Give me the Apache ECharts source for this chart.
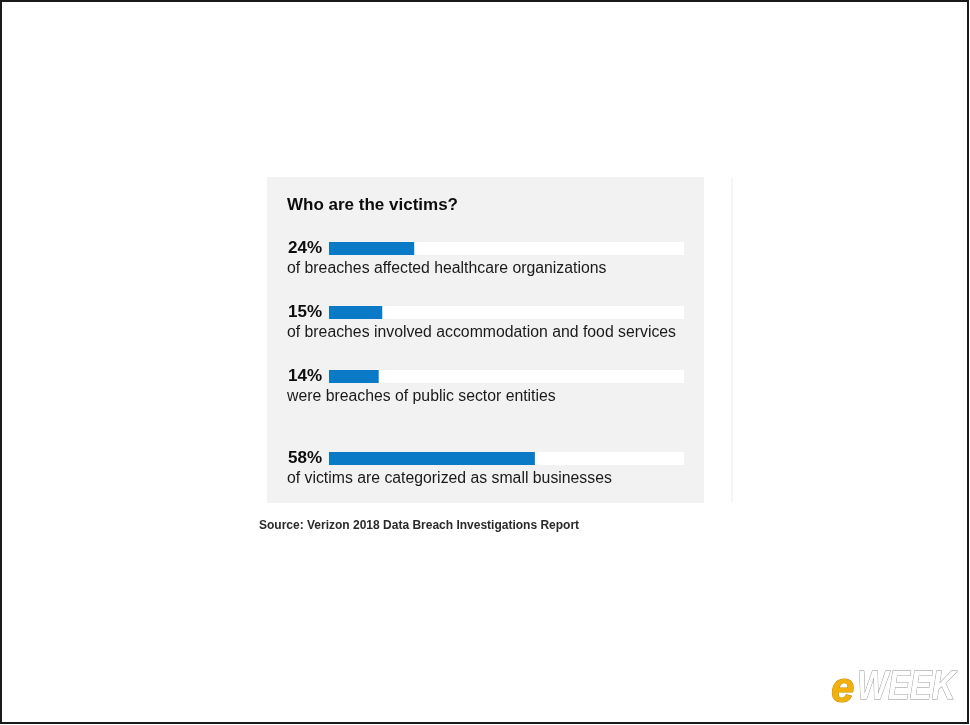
<!DOCTYPE html>
<html>
<head>
<meta charset="utf-8">
<script src="https://cdn.jsdelivr.net/npm/echarts@6/dist/echarts.min.js"></script>
<style>
html,body{margin:0;padding:0;background:#fff;}
#chart{width:970px;height:725px;}
</style>
</head>
<body>
<div id="chart"></div>
<script>
const titleText = 'Who are the victims?';
const categories = ['healthcare', 'accommodation', 'public sector', 'small businesses'];
const percentValues = [24, 15, 14, 58];
const descriptions = [
  'of breaches affected healthcare organizations',
  'of breaches involved accommodation and food services',
  'were breaches of public sector entities',
  'of victims are categorized as small businesses'
];
const sourceText = 'Source: Verizon 2018 Data Breach Investigations Report';
const axisMax = 100;

const FONT = '"Liberation Sans", Arial, Helvetica, sans-serif';
const barTops = [242, 306, 370, 452];
const barLeft = 329, barWidth = 355, barH = 13;

const grids = [], xAxes = [], yAxes = [], series = [], descTexts = [];
categories.forEach((c, i) => {
  grids.push({left: barLeft, width: barWidth, top: barTops[i], height: barH, containLabel: false});
  xAxes.push({type: 'value', gridIndex: i, min: 0, max: axisMax, show: false});
  yAxes.push({type: 'category', gridIndex: i, data: [c], show: false});
  series.push({
    type: 'bar', xAxisIndex: i, yAxisIndex: i,
    data: [percentValues[i]],
    barWidth: '100%',
    showBackground: true,
    backgroundStyle: {color: '#ffffff'},
    itemStyle: {color: '#0a7ac7'},
    label: {
      show: true, position: 'left', distance: 7,
      formatter: '{c}%',
      fontFamily: FONT, fontWeight: 'bold', fontSize: 17, color: '#0d0d0d'
    },
    silent: true, animation: false
  });
  descTexts.push({
    type: 'text', left: 287, top: barTops[i] + 19, z: 10,
    style: {text: descriptions[i], fontFamily: FONT, fontSize: 15.8, fill: '#1a1a1a'}
  });
});

const chart = echarts.init(document.getElementById('chart'), null, {renderer: 'canvas'});
chart.setOption({
  backgroundColor: '#ffffff',
  animation: false,
  grid: grids, xAxis: xAxes, yAxis: yAxes, series: series,
  graphic: [
    {type: 'rect', shape: {x: 1, y: 1, width: 967, height: 722}, style: {fill: 'none', stroke: '#1a1a1a', lineWidth: 2}, z: 0},
    {type: 'rect', shape: {x: 267, y: 177, width: 437, height: 326}, style: {fill: '#f2f2f2'}, z: 0, silent: true},
    {type: 'line', shape: {x1: 732, y1: 177, x2: 732, y2: 503}, style: {stroke: '#ececec', lineWidth: 1}, z: 0},
    {type: 'text', left: 287, top: 197, z: 10,
      style: {text: titleText, fontFamily: FONT, fontWeight: 'bold', fontSize: 17, fill: '#0d0d0d'}},
    ...descTexts,
    {type: 'text', left: 259, top: 520, z: 10,
      style: {text: sourceText, fontFamily: FONT, fontWeight: 'bold', fontSize: 12, fill: '#2a2a2a'}},
    {type: 'text', x: 831, y: 669, z: 10,
      style: {text: 'e', fontFamily: FONT, fontWeight: 'bold', fontStyle: 'italic', fontSize: 42,
        fill: '#f0b10c', stroke: '#c58900', lineWidth: 1,
        shadowColor: 'rgba(0,0,0,0.35)', shadowBlur: 3, shadowOffsetX: 2, shadowOffsetY: 2}},
    {type: 'text', x: 857, y: 668, scaleX: 0.82, scaleY: 1, z: 10,
      style: {text: 'WEEK', fontFamily: FONT, fontWeight: 'bold', fontStyle: 'italic', fontSize: 40,
        fill: '#ffffff', stroke: '#8f8f8f', lineWidth: 1,
        shadowColor: 'rgba(0,0,0,0.5)', shadowBlur: 3, shadowOffsetX: 2, shadowOffsetY: 3}}
  ]
});
</script>
</body>
</html>
